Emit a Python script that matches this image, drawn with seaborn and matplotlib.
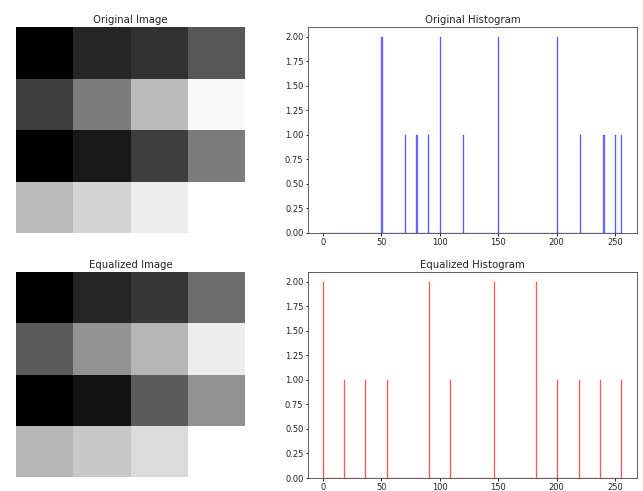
import numpy as np
import matplotlib
matplotlib.use("Agg")
import matplotlib.pyplot as plt
import seaborn as sns

# 4x4 grayscale image (pixel values)
original_rows = [
    [50, 80, 90, 120],
    [100, 150, 200, 250],
    [50, 70, 100, 150],
    [200, 220, 240, 255],
]
# histogram-equalized image
equalized_rows = [
    [0, 36, 55, 109],
    [91, 146, 182, 237],
    [0, 18, 91, 146],
    [182, 200, 219, 255],
]
x_ticks = [0, 50, 100, 150, 200, 250]

plt.rcParams.update({
    "font.size": 6,
    "axes.titlesize": 7.3,
    "axes.linewidth": 0.6,
    "xtick.major.size": 1.8,
    "ytick.major.size": 1.8,
    "xtick.major.width": 0.6,
    "ytick.major.width": 0.6,
    "xtick.major.pad": 1.5,
    "ytick.major.pad": 1.5,
    "text.color": "#222222",
    "xtick.labelcolor": "#222222",
    "ytick.labelcolor": "#222222",
})

W, H = 643, 491
fig = plt.figure(figsize=(W / 100, H / 100), dpi=100)

def px_axes(x0, y0, x1, y1):
    return fig.add_axes([x0 / W, 1 - y1 / H, (x1 - x0) / W, (y1 - y0) / H])

ax_oi = px_axes(16, 27, 245, 233)
ax_oh = px_axes(308, 27, 637, 233)
ax_ei = px_axes(16, 272, 245, 477)
ax_eh = px_axes(308, 272, 637, 478)

orig = np.array(original_rows)
eq = np.array(equalized_rows)

sns.heatmap(orig, cmap="gray", cbar=False, ax=ax_oi, xticklabels=False, yticklabels=False)
ax_oi.axis("off")
ax_oi.set_title("Original Image", pad=3)

sns.heatmap(eq, cmap="gray", vmin=0, vmax=255, cbar=False, ax=ax_ei,
            xticklabels=False, yticklabels=False)
ax_ei.axis("off")
ax_ei.set_title("Equalized Image", pad=3)

def hist(ax, vals, color, title):
    sns.histplot(x=vals, bins=256, binrange=(0, 256), color=color, alpha=0.55,
                 edgecolor=color, linewidth=0.15, ax=ax)
    ax.set_xlim(-12.8, 268.8)
    ax.set_ylim(0, 2.1)
    ax.set_xticks(x_ticks)
    ax.set_yticks(np.arange(0, 2.01, 0.25))
    ax.set_yticklabels([f"{v:.2f}" for v in np.arange(0, 2.01, 0.25)])
    ax.set_xlabel("")
    ax.set_ylabel("")
    ax.set_title(title, pad=3)
    for s in ax.spines.values():
        s.set_color("#444444")

hist(ax_oh, orig.ravel(), "blue", "Original Histogram")
hist(ax_eh, eq.ravel(), "red", "Equalized Histogram")

fig.savefig("out.png", dpi=100)
